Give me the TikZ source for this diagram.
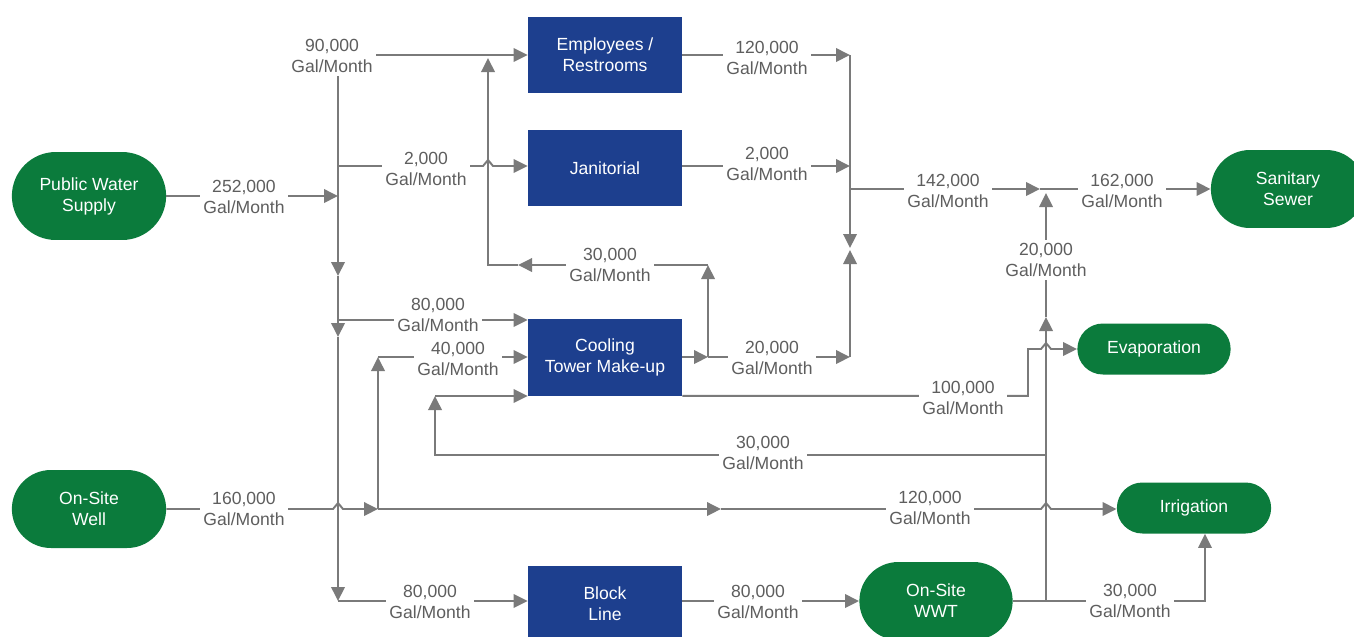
\documentclass[tikz,border=0pt]{standalone}
\usepackage{fontspec}
\setmainfont{Liberation Sans}
\usetikzlibrary{arrows.meta,calc,shapes.misc}
\definecolor{SiteGreen}{HTML}{0B7B3C}
\definecolor{ProcBlue}{HTML}{1D3F8E}
\definecolor{FlowGray}{HTML}{7A7A7A}
\definecolor{QtyGray}{HTML}{5E5E5E}
\begin{document}
\begin{tikzpicture}[x=0.02cm, y=-0.02cm,
        proc/.style={fill=ProcBlue, text=white, minimum width=3.08cm,
                     minimum height=1.54cm, align=center, inner sep=2pt},
        site/.style={rounded rectangle, fill=SiteGreen, text=white,
                     minimum width=3.32cm, minimum height=1.56cm, align=center},
        flow/.style={draw=FlowGray, line width=1.1pt},
        flowtip/.style={-{Triangle[length=0.28cm, width=0.27cm]}},
        qty/.style={fill=white, text=QtyGray, align=center, inner sep=2pt},
      ]
      \useasboundingbox (0,0) rectangle (1354,636);
      \node[site, minimum height=1.76cm] (pws) at (89,196) {Public Water\\Supply};
      \node[site] (well) at (89,509) {On-Site\\Well};
      \node[proc] (emp) at (605,55) {Employees /\\Restrooms};
      \node[proc] (jan) at (605,168) {Janitorial};
      \node[proc] (cool) at (605,357) {Cooling\\Tower Make-up};
      \node[proc] (block) at (605,604) {Block\\Line};
      \node[site] (sewer) at (1288,189) {Sanitary\\Sewer};
      \node[site, minimum height=1.02cm, minimum width=3.3cm] (evap) at (1154,349) {Evaporation};
      \node[site, minimum height=1.02cm] (irr) at (1194,508) {Irrigation};
      \node[site, minimum width=3.3cm] (wwt) at (936,601) {On-Site\\WWT};

      \coordinate (bus) at (338,196);
      \coordinate (busE) at (338,55);
      \coordinate (busJ) at (338,166);
      \coordinate (busA1) at (338,276);
      \coordinate (busC) at (338,320);
      \coordinate (busA2) at (338,337);
      \coordinate (busB) at (338,601);
      \coordinate (hopJ) at (488,166);
      \draw[flow,flowtip] (pws.east) -- (bus);
      \draw[flow] (bus) -- (busE);
      \draw[flow,flowtip] (busE) -- (emp.west);
      \draw[flow,flowtip] (busJ) -- ($(hopJ)+(-5,0)$) -- ++(5,-6) -- ++(5,6) -- (jan.west |- busJ);
      \draw[flow,flowtip] (bus) -- (busA1);
      \draw[flow] (busA1) -- (busC);
      \draw[flow,flowtip] (busC) -- (cool.west |- busC);
      \draw[flow,flowtip] (busC) -- (busA2);
      \draw[flow,flowtip] (busA2) -- (busB);
      \draw[flow,flowtip] (busB) -- (block.west |- busB);

      \coordinate (wJ) at (378,509);
      \coordinate (wUp) at (378,357);
      \coordinate (wA) at (721,509);
      \coordinate (hopW) at (338,509);
      \coordinate (hopI) at (1046,509);
      \draw[flow,flowtip] (well.east) -- ($(hopW)+(-5,0)$) -- ++(5,-6) -- ++(5,6) -- (wJ);
      \draw[flow,flowtip] (wJ) -- (wUp);
      \draw[flow,flowtip] (wUp) -- (cool.west |- wUp);
      \draw[flow,flowtip] (wJ) -- (wA);
      \draw[flow,flowtip] (wA) -- ($(hopI)+(-5,0)$) -- ++(5,-6) -- ++(5,6) -- (irr.west |- wA);

      \coordinate (cJ) at (708,357);
      \coordinate (cR) at (708,265);
      \coordinate (cRa) at (518,265);
      \coordinate (cL) at (488,265);
      \coordinate (cLt) at (488,58);
      \draw[flow,flowtip] (cool.east) -- (cJ);
      \draw[flow,flowtip] (cJ) -- (cR);
      \draw[flow,flowtip] (cR) -- (cRa);
      \draw[flow,flowtip] (cRa) -- (cL) -- (cLt);

      \coordinate (kE) at (850,55);
      \coordinate (kJ) at (850,166);
      \coordinate (kC) at (850,357);
      \coordinate (kO) at (850,189);
      \coordinate (kDn) at (850,248);
      \coordinate (kUp) at (850,250);
      \coordinate (mA) at (1040,189);
      \draw[flow,flowtip] (emp.east) -- (kE);
      \draw[flow,flowtip] (kE) -- (kDn);
      \draw[flow,flowtip] (jan.east |- kJ) -- (kJ);
      \draw[flow,flowtip] (cJ) -- (kC);
      \draw[flow,flowtip] (kC) -- (kUp);
      \draw[flow,flowtip] (kO) -- (mA);
      \draw[flow,flowtip] (mA) -- (sewer.west |- mA);

      \coordinate (vW) at (1046,601);
      \coordinate (vA) at (1046,317);
      \coordinate (vT) at (1046,193);
      \coordinate (vR) at (1046,455);
      \coordinate (iC) at (1205,601);
      \draw[flow,flowtip] (block.east |- wwt.west) -- (wwt.west);
      \draw[flow] (wwt.east) -- (vW);
      \draw[flow,flowtip] (vW) -- (vA);
      \draw[flow,flowtip] (vA) -- (vT);
      \draw[flow,flowtip] (vW) -- (iC) -- (iC |- irr.south);

      \coordinate (rL) at (435,455);
      \coordinate (rT) at (435,396);
      \draw[flow,flowtip] (vR) -- (rL) -- (rT);
      \draw[flow,flowtip] (rT) -- (rT -| cool.west);

      \coordinate (eU) at (1028,349);
      \coordinate (hopE) at (1046,349);
      \draw[flow,flowtip] (cool.south east) -- (cool.south east -| eU) -- (eU)
            -- ($(hopE)+(-5,0)$) -- ++(5,-6) -- ++(5,6) -- (evap.west);

      \node[qty] (q1) at (332,56) {90,000\\Gal/Month};
      \node[qty] (q2) at (244,197) {252,000\\Gal/Month};
      \node[qty] (q3) at (426,169) {2,000\\Gal/Month};
      \node[qty] (q4) at (610,265) {30,000\\Gal/Month};
      \node[qty] (q5) at (438,315) {80,000\\Gal/Month};
      \node[qty] (q6) at (458,359) {40,000\\Gal/Month};
      \node[qty] (q7) at (244,509) {160,000\\Gal/Month};
      \node[qty] (q8) at (430,602) {80,000\\Gal/Month};
      \node[qty] (q9) at (767,58) {120,000\\Gal/Month};
      \node[qty] (q10) at (767,164) {2,000\\Gal/Month};
      \node[qty] (q11) at (948,191) {142,000\\Gal/Month};
      \node[qty] (q12) at (1122,191) {162,000\\Gal/Month};
      \node[qty] (q13) at (1046,260) {20,000\\Gal/Month};
      \node[qty] (q14) at (772,358) {20,000\\Gal/Month};
      \node[qty] (q15) at (963,398) {100,000\\Gal/Month};
      \node[qty] (q16) at (763,453) {30,000\\Gal/Month};
      \node[qty] (q17) at (930,508) {120,000\\Gal/Month};
      \node[qty] (q18) at (758,602) {80,000\\Gal/Month};
      \node[qty] (q19) at (1130,601) {30,000\\Gal/Month};
    \end{tikzpicture}
\end{document}
